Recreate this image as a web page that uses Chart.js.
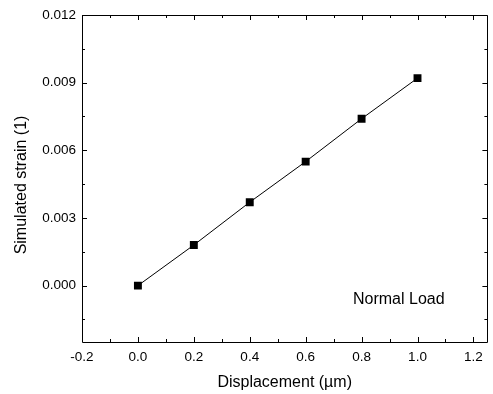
<!DOCTYPE html>
<html><head><meta charset="utf-8">
<script src="https://cdn.jsdelivr.net/npm/chart.js@4/dist/chart.umd.min.js"></script>
<style>html,body{margin:0;padding:0;background:#fff}#wrap{width:493px;height:394px}</style>
</head><body><div id="wrap"><canvas id="c"></canvas></div>
<script>
const displacement = [0.0, 0.2, 0.4, 0.6, 0.8, 1.0];
const strain = [0.0, 0.0018, 0.0037, 0.0055, 0.0074, 0.0092];
const xMajorTicks = [-0.2, 0.0, 0.2, 0.4, 0.6, 0.8, 1.0, 1.2];
const xMinorTicks = [-0.1, 0.1, 0.3, 0.5, 0.7, 0.9, 1.1];
const yMajorTicks = [0.000, 0.003, 0.006, 0.009, 0.012];
const yMinorTicks = [-0.0015, 0.0015, 0.0045, 0.0075, 0.0105];
const xTitle = "Displacement (\u00b5m)";
const yTitle = "Simulated strain (1)";
const annotationText = "Normal Load";
const FONT = "'Liberation Sans', Arial, sans-serif";

const framePlugin = {
  id: 'frame',
  afterDraw(chart) {
    const {ctx, chartArea: a, scales: {x, y}} = chart;
    ctx.save();
    ctx.strokeStyle = '#000';
    ctx.lineWidth = 1;
    ctx.beginPath();
    ctx.rect(Math.round(a.left) + 0.5, Math.round(a.top) + 0.5, Math.round(a.right - a.left), Math.round(a.bottom - a.top));
    ctx.stroke();
    ctx.beginPath();
    const tick = (vals, len) => {
      vals.forEach(v => {
        const px = Math.round(x.getPixelForValue(v)) + 0.5;
        ctx.moveTo(px, a.bottom); ctx.lineTo(px, a.bottom - len);
        ctx.moveTo(px, a.top); ctx.lineTo(px, a.top + len);
      });
    };
    const ytick = (vals, len) => {
      vals.forEach(v => {
        const py = Math.round(y.getPixelForValue(v)) + 0.5;
        ctx.moveTo(a.left, py); ctx.lineTo(a.left + len, py);
        ctx.moveTo(a.right, py); ctx.lineTo(a.right - len, py);
      });
    };
    tick(xMajorTicks, 5); tick(xMinorTicks, 3);
    ytick(yMajorTicks, 5); ytick(yMinorTicks, 3);
    ctx.stroke();
    ctx.fillStyle = '#000';
    ctx.font = '16px ' + FONT;
    ctx.textBaseline = 'alphabetic';
    ctx.textAlign = 'left';
    ctx.fillText(annotationText, 353, 304);
    // axis titles
    ctx.textAlign = 'center';
    ctx.textBaseline = 'middle';
    ctx.fillText(xTitle, (a.left + a.right) / 2, 383);
    ctx.translate(22, 185);
    ctx.rotate(-Math.PI / 2);
    ctx.fillText(yTitle, 0, 0);
    ctx.restore();
  }
};

new Chart(document.getElementById('c'), {
  type: 'scatter',
  data: {
    datasets: [{
      data: displacement.map((v, i) => ({x: v, y: strain[i]})),
      showLine: true,
      borderColor: '#000',
      borderWidth: 1,
      backgroundColor: '#000',
      pointStyle: 'rect',
      pointRadius: 5.6,
      pointHoverRadius: 5.6,
      pointBorderWidth: 0
    }]
  },
  options: {
    responsive: true,
    maintainAspectRatio: false,
    animation: false,
    events: [],
    layout: {padding: {left: 0, top: 15, right: 3, bottom: 0}},
    plugins: {legend: {display: false}, tooltip: {enabled: false}},
    scales: {
      x: {
        type: 'linear', min: -0.2, max: 1.25,
        afterBuildTicks: s => { s.ticks = xMajorTicks.map(v => ({value: v})); },
        afterFit: s => { s.height = 52; },
        grid: {display: false, drawTicks: false},
        border: {display: false},
        ticks: {color: '#000', padding: 7, maxRotation: 0, font: {family: FONT, size: 13.5},
          callback: v => v.toFixed(1)},
        title: {display: false}
      },
      y: {
        type: 'linear', min: -0.0025, max: 0.012,
        afterBuildTicks: s => { s.ticks = yMajorTicks.map(v => ({value: v})); },
        afterFit: s => { s.width = 82; },
        grid: {display: false, drawTicks: false},
        border: {display: false},
        ticks: {color: '#000', padding: 6, font: {family: FONT, size: 13.5},
          callback: v => v.toFixed(3)},
        title: {display: false}
      }
    }
  },
  plugins: [framePlugin]
});
</script>
</body></html>
